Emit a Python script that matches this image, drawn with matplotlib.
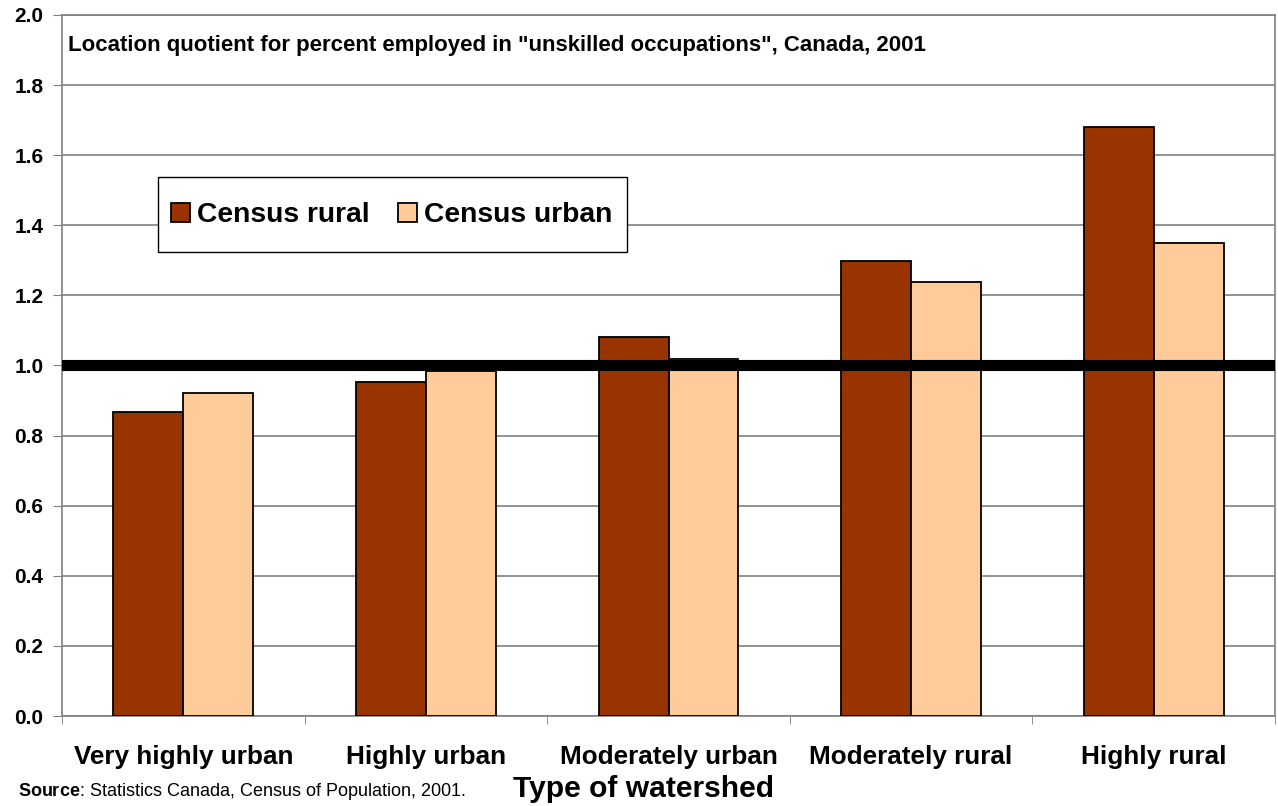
import matplotlib.pyplot as plt
import numpy as np
from matplotlib.patches import Rectangle

# ----- Data ------------------------------------------------------------------------------------------------------- #

CATEGORIES = ['Very highly urban', 'Highly urban', 'Moderately urban', 'Moderately rural', 'Highly rural']
CENSUS_RURAL = [0.868, 0.954, 1.080, 1.298, 1.680]
CENSUS_URBAN = [0.921, 0.985, 1.019, 1.237, 1.350]
Y_TICKS = [0.0, 0.2, 0.4, 0.6, 0.8, 1.0, 1.2, 1.4, 1.6, 1.8, 2.0]

RURAL_COLOR = '#993300'
URBAN_COLOR = '#FFCC99'

plt.rcParams['font.family'] = ['Liberation Sans', 'DejaVu Sans']
plt.rcParams['mathtext.fontset'] = 'custom'
plt.rcParams['mathtext.rm'] = 'Liberation Sans'
plt.rcParams['mathtext.bf'] = 'Liberation Sans:bold'

W, H = 1278, 806

# ----- Plot -------------------------------------------------------------------------------------------------------- #

fig = plt.figure(figsize=(W / 100, H / 100), dpi=100)
ax = fig.add_axes([62 / W, 1 - 716 / H, (1275 - 62) / W, (716 - 15) / H])

x = np.arange(len(CATEGORIES))
width = 0.288
ax.bar(x - width / 2, CENSUS_RURAL, width, color=RURAL_COLOR, edgecolor='black', linewidth=1.3,
       label='Census rural', zorder=3)
ax.bar(x + width / 2, CENSUS_URBAN, width, color=URBAN_COLOR, edgecolor='black', linewidth=1.3,
       label='Census urban', zorder=3)

# Reference line at a location quotient of 1
ax.axhline(1.0, color='black', linewidth=8, zorder=4)

ax.set_xlim(-0.5, len(CATEGORIES) - 0.5)
ax.set_ylim(0, 2.0)
ax.set_yticks(Y_TICKS)
ax.set_yticklabels([f'{t:.1f}' for t in Y_TICKS], fontsize=15, fontweight='bold')
ax.yaxis.grid(True, color='#808080', linewidth=1.2, zorder=0)

ax.set_xticks(x)
ax.set_xticklabels(CATEGORIES, fontsize=18.8, fontweight='bold')
ax.set_xticks(np.arange(-0.5, len(CATEGORIES)), minor=True)
ax.tick_params(axis='x', which='major', length=0, pad=21)
ax.tick_params(axis='x', which='minor', length=6, color='#808080')
ax.tick_params(axis='y', length=6.5, color='#808080', pad=7)

for side in ['left', 'right', 'top', 'bottom']:
    ax.spines[side].set_color('#808080')
    ax.spines[side].set_linewidth(1.2)

fig.text(68 / W, 1 - 51 / H, 'Location quotient for percent employed in "unskilled occupations", Canada, 2001',
         fontsize=16, fontweight='bold', va='baseline', ha='left')

# Legend box drawn separately so its padding matches the original
fig.patches.append(Rectangle((158 / W, 1 - 252 / H), (627 - 158) / W, (252 - 177) / H,
                             transform=fig.transFigure, facecolor='white', edgecolor='black',
                             linewidth=1.0, zorder=5))
legend = fig.legend(loc='center', bbox_to_anchor=(392 / W, 1 - 215 / H),
                    ncol=2, prop={'weight': 'bold', 'size': 20.3}, frameon=False,
                    handlelength=0.67, handleheight=0.67, handletextpad=0.25,
                    columnspacing=1.0, borderpad=0, borderaxespad=0)
legend.set_zorder(6)

fig.text(643 / W, 1 - 797 / H, 'Type of watershed', fontsize=21.6, fontweight='bold',
         ha='center', va='baseline')
fig.text(18 / W, 1 - 796 / H, r'$\mathbf{Source}$: Statistics Canada, Census of Population, 2001.',
         fontsize=13, ha='left', va='baseline')

plt.savefig('out.png', dpi=100)
